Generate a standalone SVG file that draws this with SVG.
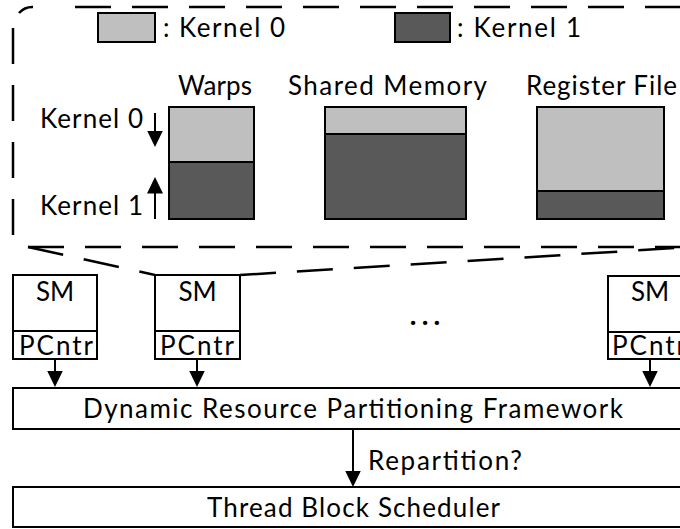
<svg xmlns="http://www.w3.org/2000/svg" width="680" height="529" viewBox="0 0 680 529">
  <style>
    .lbl { font-family: Lato, "Liberation Sans", sans-serif; font-size: 26px; fill: #000; }
    .mid { text-anchor: middle; }
    .box { fill: #fff; stroke: #000; stroke-width: 2; }
    .k0 { fill: #bfbfbf; stroke: #000; stroke-width: 2; }
    .k1 { fill: #595959; stroke: #000; stroke-width: 2; }
    .dash { fill: none; stroke: #000; stroke-width: 2.5; stroke-dasharray: 36 21; }
    .wire { fill: none; stroke: #000; stroke-width: 2; }
  </style>
  <defs>
    <marker id="head" markerUnits="userSpaceOnUse" markerWidth="17" markerHeight="16" refX="0.5" refY="8" orient="auto">
      <path d="M0,0 L16.5,8 L0,16 Z" fill="#000"/>
    </marker>
  </defs>
  <rect width="680" height="529" fill="#fff"/>

  <!-- zoomed-in view of one SM: dashed outline and the lines down to it -->
  <g id="zoom-outline">
    <path class="dash" d="M75 7 H700"/>
    <path fill="none" stroke="#000" stroke-width="2.5" d="M19 13 A18 18 0 0 1 33 7"/>
    <path class="dash" d="M13 28 V236"/>
    <path class="dash" d="M28 247 H700"/>
    <path class="dash" d="M28 247 L155 275"/>
    <path class="dash" d="M240 275 L692 247"/>
  </g>

  <!-- legend -->
  <g id="legend-kernel0">
    <rect class="k0" x="98" y="13" width="57" height="29"/>
    <text class="lbl" x="163" y="37" textLength="122">: Kernel 0</text>
  </g>
  <g id="legend-kernel1">
    <rect class="k1" x="395" y="13" width="55" height="29"/>
    <text class="lbl" x="457" y="37" textLength="124">: Kernel 1</text>
  </g>

  <!-- per-SM resources split between the two kernels -->
  <g id="warps">
    <text class="lbl" x="178" y="95" textLength="74">Warps</text>
    <rect class="k1" x="169" y="162" width="85" height="57"/>
    <rect class="k0" x="169" y="107" width="85" height="55"/>
  </g>
  <g id="shared-memory">
    <text class="lbl" x="288" y="95" textLength="199">Shared Memory</text>
    <rect class="k1" x="325" y="134" width="141" height="85"/>
    <rect class="k0" x="325" y="107" width="141" height="27"/>
  </g>
  <g id="register-file">
    <text class="lbl" x="526" y="95" textLength="151">Register File</text>
    <rect class="k1" x="537" y="191" width="127" height="28"/>
    <rect class="k0" x="537" y="107" width="127" height="84"/>
  </g>

  <g id="kernel-labels">
    <text class="lbl" x="40" y="128" textLength="103">Kernel 0</text>
    <text class="lbl" x="40" y="215" textLength="103">Kernel 1</text>
  </g>

  <!-- streaming multiprocessors -->
  <g id="sm-1">
    <rect class="box" x="13" y="275" width="84" height="84"/>
    <line class="wire" x1="13" y1="331" x2="97" y2="331"/>
    <text class="lbl mid" x="55" y="301">SM</text>
    <text class="lbl" x="19" y="355" textLength="74">PCntr</text>
  </g>
  <g id="sm-2">
    <rect class="box" x="155" y="275" width="85" height="84"/>
    <line class="wire" x1="155" y1="331" x2="240" y2="331"/>
    <text class="lbl mid" x="197.5" y="301">SM</text>
    <text class="lbl" x="160" y="355" textLength="74">PCntr</text>
  </g>
  <g id="sm-n">
    <rect class="box" x="608" y="276" width="84" height="83"/>
    <line class="wire" x1="608" y1="332" x2="692" y2="332"/>
    <text class="lbl mid" x="650" y="301">SM</text>
    <text class="lbl" x="612" y="355" textLength="74">PCntr</text>
  </g>
  <g id="ellipsis">
    <text class="lbl mid" x="425" y="325" font-size="36" font-weight="900" textLength="30">...</text>
  </g>

  <g id="framework">
    <rect class="box" x="13" y="388" width="680" height="41"/>
    <text class="lbl" x="83" y="418" textLength="540">Dynamic Resource Partitioning Framework</text>
  </g>
  <g id="scheduler">
    <rect class="box" x="13" y="487" width="680" height="40"/>
    <text class="lbl" x="207" y="517" textLength="293">Thread Block Scheduler</text>
  </g>

  <!-- connectors -->
  <g id="connectors">
    <line class="wire" x1="155" y1="113" x2="155" y2="131" marker-end="url(#head)"/>
    <line class="wire" x1="155" y1="219" x2="155" y2="193" marker-end="url(#head)"/>
    <line class="wire" x1="55" y1="359" x2="55" y2="371" marker-end="url(#head)"/>
    <line class="wire" x1="197" y1="359" x2="197" y2="371" marker-end="url(#head)"/>
    <line class="wire" x1="650" y1="359" x2="650" y2="371" marker-end="url(#head)"/>
    <line class="wire" x1="353" y1="429" x2="353" y2="471" marker-end="url(#head)"/>
    <text class="lbl" x="368" y="470" textLength="154">Repartition?</text>
  </g>
</svg>
